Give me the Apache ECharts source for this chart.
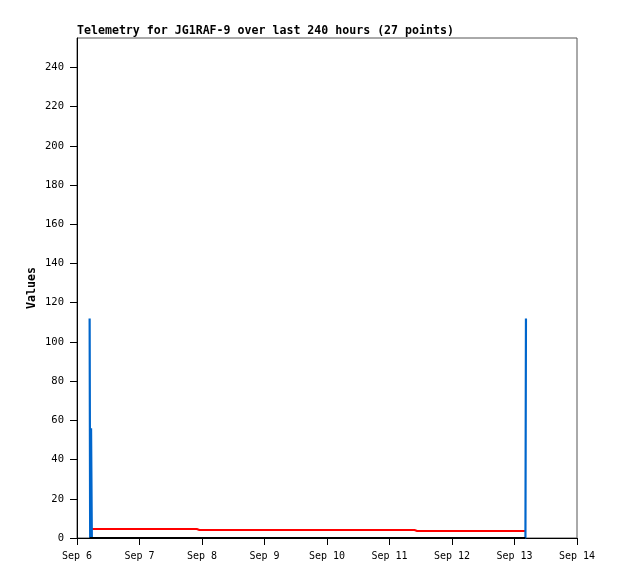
<!DOCTYPE html>
<html>
<head>
<meta charset="utf-8">
<script src="https://cdn.jsdelivr.net/npm/echarts@6/dist/echarts.min.js"></script>
<style>html,body{margin:0;padding:0;background:#fff}#c{width:618px;height:579px}</style>
</head>
<body>
<div id="c"></div>
<script>
// Data (hours since Sep 6 00:00)
const titleText = 'Telemetry for JG1RAF-9 over last 240 hours (27 points)';
const dayLabels = ['Sep 6','Sep 7','Sep 8','Sep 9','Sep 10','Sep 11','Sep 12','Sep 13','Sep 14'];
const yTicks = [0,20,40,60,80,100,120,140,160,180,200,220,240];
const hours = [4.85,5.05,5.4,5.7,12,19,26,33,40,46.0,47.0,58,68,78,88,98,108,118,129.6,130.6,140,150,160,166,170,172.2,172.4];
const blueVals = [112,0,56,0,0,0,0,0,0,0,0,0,0,0,0,0,0,0,0,0,0,0,0,0,0,0,112];
const redVals = [null,null,null,4.6,4.6,4.6,4.6,4.6,4.6,4.6,4.07,4.07,4.07,4.07,4.07,4.07,4.07,4.07,4.07,3.55,3.55,3.55,3.55,3.55,3.55,3.55,3.55];
const blackVals = [0,0,0,0,0,0,0,0,0,0,0,0,0,0,0,0,0,0,0,0,0,0,0,0,0,0,0];

const pair = vals => hours.map((h,i)=>[h, vals[i]]);
const mono = '"DejaVu Sans Mono", monospace';

const chart = echarts.init(document.getElementById('c'), null, {renderer:'canvas'});
chart.setOption({
  animation:false,
  backgroundColor:'#ffffff',
  title:{
    text:titleText, left:77, top:25, padding:0,
    textStyle:{fontFamily:mono, fontSize:11.6, fontWeight:'bold', color:'#000'}
  },
  grid:{left:77, right:41, top:38, bottom:41, show:true, borderColor:'#555', borderWidth:1, backgroundColor:'#fff'},
  xAxis:{
    type:'value', min:0, max:192, interval:24,
    axisLine:{lineStyle:{color:'#000', width:1}},
    axisTick:{length:7, lineStyle:{color:'#000'}},
    splitLine:{show:false},
    axisLabel:{margin:13, fontFamily:mono, fontSize:10, color:'#000',
      formatter:v=>dayLabels[Math.round(v/24)] || ''}
  },
  yAxis:{
    type:'value', min:0, max:255,
    name:'Values', nameLocation:'middle', nameGap:39, nameMoveOverlap:false,
    nameTextStyle:{fontFamily:mono, fontSize:11.6, fontWeight:'bold', color:'#000'},
    axisLine:{show:true, lineStyle:{color:'#000', width:1}},
    axisTick:{show:true, length:7, lineStyle:{color:'#000'}, customValues:yTicks},
    splitLine:{show:false},
    axisLabel:{margin:13, fontFamily:mono, fontSize:10.5, color:'#000', customValues:yTicks}
  },
  series:[
    {type:'line', data:pair(blueVals), showSymbol:false, lineStyle:{color:'#0066cc', width:2.2, join:'bevel'}, z:2},
    {type:'line', data:pair(redVals), showSymbol:false, lineStyle:{color:'#ff0000', width:2, join:'bevel'}, z:1},
    {type:'line', data:pair(blackVals), showSymbol:false, clip:false, lineStyle:{color:'#000000', width:2}, z:3}
  ]
});
</script>
</body>
</html>
